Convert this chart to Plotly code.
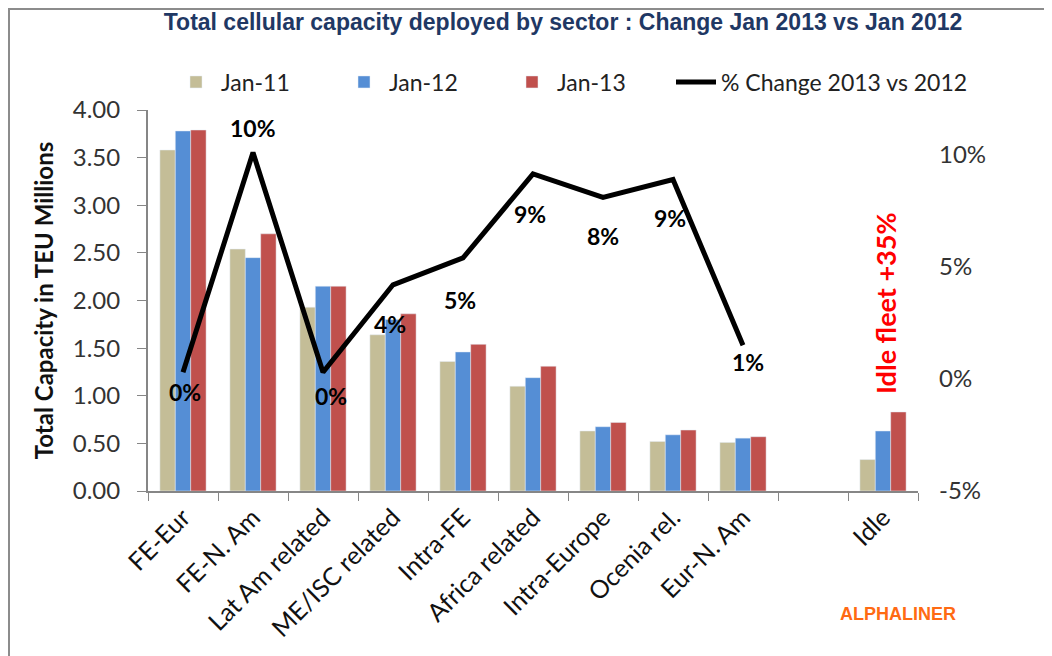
import plotly.graph_objects as go

sectors = ["FE-Eur", "FE-N. Am", "Lat Am related", "ME/ISC related", "Intra-FE",
           "Africa related", "Intra-Europe", "Ocenia rel.", "Eur-N. Am", " ", "Idle"]
jan11 = [3.58, 2.54, 1.93, 1.64, 1.36, 1.10, 0.63, 0.52, 0.51, None, 0.33]
jan12 = [3.78, 2.45, 2.15, 1.80, 1.46, 1.19, 0.675, 0.59, 0.555, None, 0.63]
jan13 = [3.79, 2.70, 2.15, 1.86, 1.54, 1.31, 0.72, 0.64, 0.57, None, 0.83]
pct_change = [0.3, 10.1, 0.3, 4.2, 5.4, 9.15, 8.1, 8.9, 1.5, None, None]
pct_labels = ["0%", "10%", "0%", "4%", "5%", "9%", "8%", "9%", "1%"]
# label offsets in px (xshift, yshift) relative to each line point
label_shift = [(2, -20), (0, 25), (8, -24), (-3, -39), (-3, -42),
               (-3, -40), (0, -39), (-3, -39), (5, -17)]

TAN = "#C4BD97"
BLUE = "#558ED5"
RED = "#C0504D"
FONT = "Lato, Open Sans, sans-serif"
NARROW = "Liberation Sans Narrow, Liberation Sans, Arial, sans-serif"

# page body has an 8px margin, so the figure is drawn 8px in from the corner
OFF = 8
W, H = 1052 - OFF, 656 - OFF
# plot area in page pixels
L, R, T, B = 148, 918, 110, 491


def px_x(px):
    return (px - L) / (R - L)


def px_y(py):
    return (B - py) / (B - T)


fig = go.Figure()
fig.add_trace(go.Bar(x=sectors, y=jan11, name="Jan-11", marker_color=TAN))
fig.add_trace(go.Bar(x=sectors, y=jan12, name="Jan-12", marker_color=BLUE))
fig.add_trace(go.Bar(x=sectors, y=jan13, name="Jan-13", marker_color=RED))
fig.add_trace(go.Scatter(x=sectors, y=pct_change, name="% Change 2013 vs 2012",
                         mode="lines", line=dict(color="black", width=5),
                         yaxis="y2", legend="legend2"))

for i, lab in enumerate(pct_labels):
    xs, ys = label_shift[i]
    fig.add_annotation(x=sectors[i], y=pct_change[i], yref="y2", text=lab,
                       showarrow=False, xshift=xs, yshift=ys,
                       font=dict(family=FONT, size=23, color="black", weight="bold"))

fig.add_annotation(x="Idle", y=px_y(303), xref="x", yref="paper", xshift=2,
                   text="Idle fleet +35%", textangle=-90, showarrow=False,
                   yanchor="middle", font=dict(family=FONT, size=27, color="#FF0000", weight="bold"))

fig.add_annotation(x=px_x(898), y=px_y(614), xref="paper", yref="paper",
                   xanchor="center", yanchor="middle",
                   text="ALPHALINER", showarrow=False,
                   font=dict(family=NARROW, size=18, color="#FF6A13", weight="bold"))

# frame around the whole picture
fig.add_shape(type="rect", xref="paper", yref="paper",
              x0=px_x(OFF + 1), x1=px_x(1047), y0=px_y(700), y1=px_y(OFF + 1),
              line=dict(color="#8C8C8C", width=2))

fig.update_layout(
    width=W, height=H,
    margin=dict(l=L - OFF, r=W - (R - OFF), t=T - OFF, b=H - (B - OFF)),
    paper_bgcolor="white", plot_bgcolor="white",
    barmode="group", bargap=0.34, bargroupgap=0,
    title=dict(text="Total cellular capacity deployed by sector : Change Jan 2013 vs Jan 2012",
               x=(563 - OFF) / W, xanchor="center", y=1 - (22 - OFF) / H, yanchor="middle",
               font=dict(family=NARROW, size=23, color="#1F3864", weight="bold")),
    legend=dict(orientation="h", x=px_x(171), xanchor="left", y=px_y(82), yanchor="middle",
                font=dict(family=FONT, size=23, color="#222"), itemwidth=40,
                entrywidth=113, traceorder="normal"),
    legend2=dict(orientation="h", x=px_x(671), xanchor="left", y=px_y(82), yanchor="middle",
                 font=dict(family=FONT, size=23, color="#222"), itemwidth=40),
    font=dict(family=FONT, color="#333"),
    xaxis=dict(showline=True, linecolor="#868686", linewidth=2, ticks="outside",
               tickcolor="#868686", ticklen=8, tickson="boundaries", tickangle=-45,
               tickfont=dict(family=FONT, size=25, color="#111"),
               showgrid=False, automargin=False),
    yaxis=dict(range=[0, 4], tickvals=[0, 0.5, 1, 1.5, 2, 2.5, 3, 3.5, 4], tickformat=".2f",
               showline=True, linecolor="#868686", linewidth=2, ticks="outside",
               tickcolor="#868686", ticklen=9, showgrid=False, zeroline=False,
               ticklabelstandoff=12, automargin=False,
               tickfont=dict(family=FONT, size=24, color="#333"),
               title=dict(text="Total Capacity in TEU Millions", standoff=12,
                          font=dict(family=FONT, size=24, color="#111", weight="bold"))),
    yaxis2=dict(overlaying="y", side="right", range=[-5, 12], tickvals=[-5, 0, 5, 10],
                ticktext=["-5%", "0%", "5%", "10%"], showgrid=False, zeroline=False,
                showline=False, ticklabelstandoff=20, automargin=False,
                tickfont=dict(family=FONT, size=24, color="#333")),
)

fig.write_html("out.html")
